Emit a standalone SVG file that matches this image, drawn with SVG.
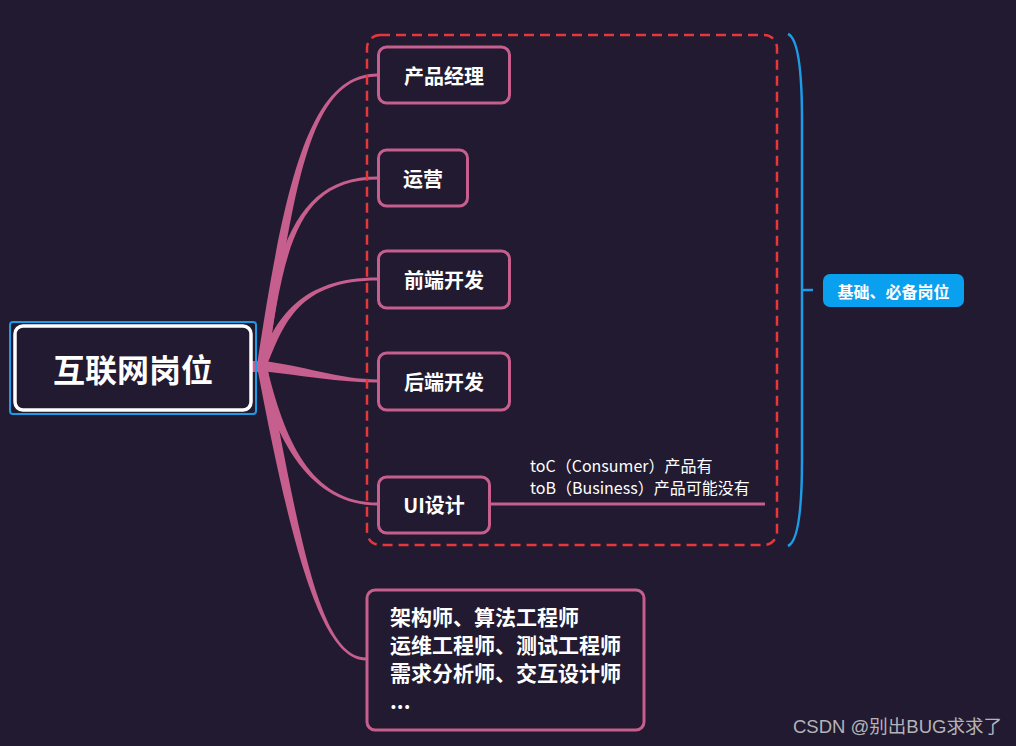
<svg xmlns="http://www.w3.org/2000/svg" width="1016" height="746" viewBox="0 0 1016 746">
<style>
.bg{fill:#211a30}
.br{fill:#c65f8e}
.node{fill:#211a30;stroke:#c65f8e;stroke-width:3}
.t{font-family:"Noto Sans CJK SC","Liberation Sans",sans-serif;fill:#ffffff;font-weight:bold}
.nt{font-size:20px;text-anchor:middle;dominant-baseline:central}
.sm{font-family:"Noto Sans CJK SC","Liberation Sans",sans-serif;fill:#ffffff;font-size:16px}
</style>
<rect class="bg" x="0" y="0" width="1016" height="746"/>
<g id="connectors">
<path class="br" d="M257,365.3 C285,179.3 310,73.5 378,73.5 L378,76.5 C310,76.5 295,180.8 267,366.8 Z"/>
<path class="br" d="M257.5,365.3 C275.5,249.3 295,176.5 378,176.5 L378,179.5 C295,179.5 284.5,250.7 266.5,366.7 Z"/>
<path class="br" d="M257.8,364.4 C275.8,318.4 300,277.5 378,277.5 L378,280.5 C300,280.5 284.2,321.6 266.2,367.6 Z"/>
<path class="br" d="M262.5,361 C300.5,365 340,379.5 378,379.5 L378,382.5 C340,382.5 299.5,375 261.5,371 Z"/>
<path class="br" d="M266.4,364.9 C284.4,438.9 310,502.5 378,502.5 L378,505.5 C310,505.5 275.6,441.1 257.6,367.1 Z"/>
<path class="br" d="M266.9,365.1 C299.9,539.1 320,657.5 366,657.5 L366,660.5 C320,660.5 290.1,540.9 257.1,366.9 Z"/>
<rect x="252" y="361" width="13" height="11" fill="#c65f8e"/>
<line x1="490" y1="504" x2="765" y2="504" stroke="#c65f8e" stroke-width="3"/>
<path d="M788,34 Q802,40 802,120 L802,460 Q802,540 788,546" fill="none" stroke="#1d9be6" stroke-width="2.5"/>
<line x1="802" y1="290" x2="813" y2="290" stroke="#1d9be6" stroke-width="2.5"/>
</g>
<g id="boundary">
<rect x="367" y="35" width="410" height="510" rx="13" fill="none" stroke="#e8373c" stroke-width="2.5" stroke-dasharray="10,6"/>
</g>
<g id="root">
<rect x="10" y="322" width="246" height="92" rx="3" fill="none" stroke="#1d9be6" stroke-width="2"/>
<rect x="15" y="326" width="236" height="84" rx="8" fill="#211a30" stroke="#ffffff" stroke-width="3.5"/>
<text class="t" x="133" y="368" font-size="32" text-anchor="middle" dominant-baseline="central">互联网岗位</text>
</g>
<g id="n1">
<rect class="node" x="378.5" y="47" width="131" height="56" rx="8"/>
<text class="t nt" x="444" y="75">产品经理</text>
</g>
<g id="n2">
<rect class="node" x="378.5" y="150" width="89" height="56" rx="8"/>
<text class="t nt" x="423" y="178">运营</text>
</g>
<g id="n3">
<rect class="node" x="378.5" y="251" width="131" height="57" rx="8"/>
<text class="t nt" x="444" y="279">前端开发</text>
</g>
<g id="n4">
<rect class="node" x="378.5" y="353" width="131" height="57" rx="8"/>
<text class="t nt" x="444" y="381">后端开发</text>
</g>
<g id="n5">
<rect class="node" x="378.5" y="477" width="111" height="56" rx="8"/>
<text class="t nt" x="434" y="504">UI设计</text>
</g>
<g id="note">
<text class="sm" x="530" y="472">toC（Consumer）产品有</text>
<text class="sm" x="530" y="494">toB（Business）产品可能没有</text>
</g>
<g id="n6">
<rect class="node" x="367" y="590" width="277" height="140" rx="8"/>
<text class="t" font-size="21" x="390" y="625">架构师、算法工程师</text>
<text class="t" font-size="21" x="390" y="653">运维工程师、测试工程师</text>
<text class="t" font-size="21" x="390" y="681">需求分析师、交互设计师</text>
<text class="t" font-size="21" x="390" y="709">...</text>
</g>
<g id="label">
<rect x="823" y="274" width="141" height="33" rx="7" fill="#0aa0f0"/>
<text class="t" x="893.5" y="290.5" font-size="16" text-anchor="middle" dominant-baseline="central">基础、必备岗位</text>
</g>
<g id="watermark">
<text x="793" y="733" font-family="'Liberation Sans','Noto Sans CJK SC',sans-serif" font-size="18.5" fill="#b4b4b8">CSDN @别出BUG求求了</text>
</g>
</svg>
